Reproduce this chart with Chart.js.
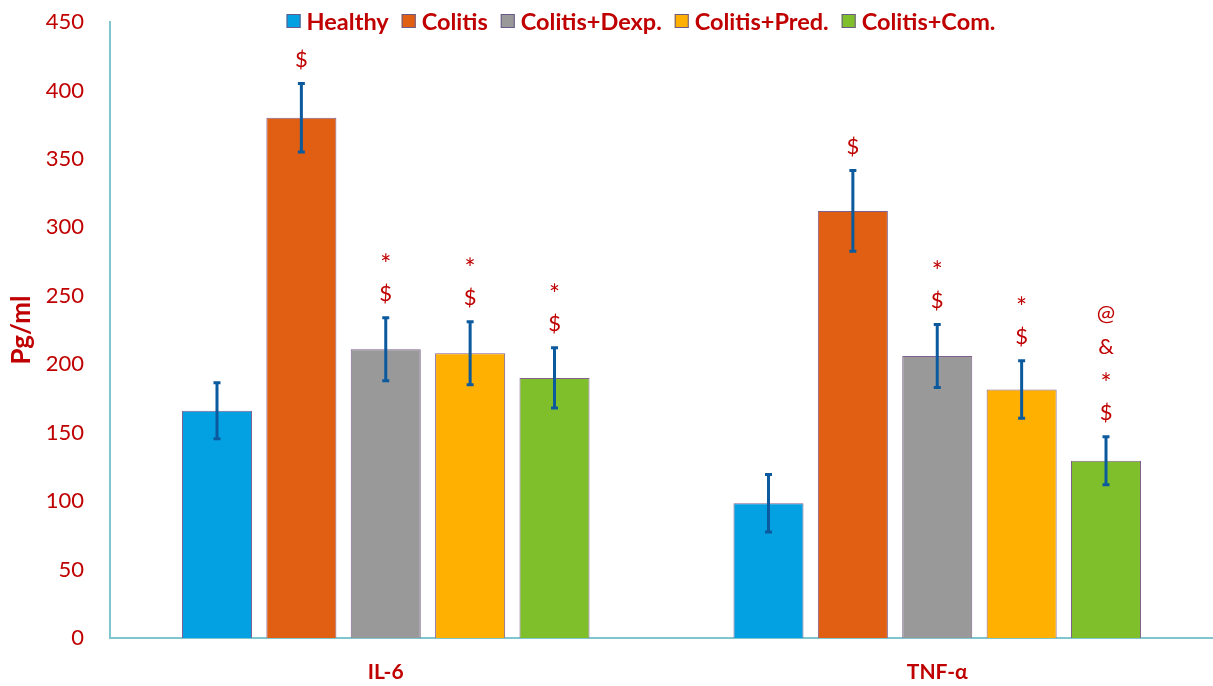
<!DOCTYPE html>
<html>
<head>
<meta charset="utf-8">
<script src="https://cdn.jsdelivr.net/npm/chart.js@4/dist/chart.umd.min.js"></script>
<style>
  html, body { margin: 0; padding: 0; background: #fff; }
  #wrap { width: 1213px; height: 686px; position: relative; }
</style>
</head>
<body>
<div id="wrap"><canvas id="c"></canvas></div>
<script>
// Cytokine levels (pg/ml) per treatment group
const categories = ['IL-6', 'TNF-α'];
const groupNames = ['Healthy', 'Colitis', 'Colitis+Dexp.', 'Colitis+Pred.', 'Colitis+Com.'];

const healthy = [166, 98.5];
const colitis = [380, 312];
const dexp    = [211, 206];
const pred    = [208, 181.5];
const com     = [190, 129.5];

// Standard deviations (error bars)
const healthyErr = [20.5, 21];
const colitisErr = [25, 29.5];
const dexpErr    = [23, 23];
const predErr    = [23, 21];
const comErr     = [22, 17.5];

// Significance marks, listed bottom to top
const healthyMarks = [[], []];
const colitisMarks = [['$'], ['$']];
const dexpMarks    = [['$', '*'], ['$', '*']];
const predMarks    = [['$', '*'], ['$', '*']];
const comMarks     = [['$', '*'], ['$', '*', '&', '@']];

const yTicks = [0, 50, 100, 150, 200, 250, 300, 350, 400, 450];

const colors = ['#03a0e2', '#e05f12', '#999999', '#ffb001', '#80bf2c'];
const RED = '#c00000';
const AXIS = '#7fc6cf';
const FONT = 'Lato, "Open Sans", sans-serif';

const seriesValues = [healthy, colitis, dexp, pred, com];
const seriesErrors = [healthyErr, colitisErr, dexpErr, predErr, comErr];
const seriesMarks  = [healthyMarks, colitisMarks, dexpMarks, predMarks, comMarks];

const datasets = groupNames.map((name, i) => ({
  label: name,
  data: seriesValues[i],
  errors: seriesErrors[i],
  marks: seriesMarks[i],
  backgroundColor: colors[i],
  borderColor: '#80608f',
  borderWidth: 1,
  categoryPercentage: 0.765,
  barPercentage: 0.83
}));

// Error bars with small caps
const errorBarPlugin = {
  id: 'errorBars',
  afterDatasetsDraw(chart) {
    const ctx = chart.ctx;
    const y = chart.scales.y;
    ctx.save();
    ctx.strokeStyle = '#0c5a9e';
    ctx.lineWidth = 3;
    chart.data.datasets.forEach((ds, di) => {
      const meta = chart.getDatasetMeta(di);
      meta.data.forEach((bar, i) => {
        const v = ds.data[i], e = ds.errors[i];
        const yTop = y.getPixelForValue(v + e);
        const yBot = y.getPixelForValue(v - e);
        const x = bar.x;
        ctx.beginPath();
        ctx.moveTo(x, yTop); ctx.lineTo(x, yBot);
        ctx.moveTo(x - 3.5, yTop); ctx.lineTo(x + 3.5, yTop);
        ctx.moveTo(x - 3.5, yBot); ctx.lineTo(x + 3.5, yBot);
        ctx.stroke();
      });
    });
    ctx.restore();
  }
};

// Significance symbols stacked above each error bar
const marksPlugin = {
  id: 'sigMarks',
  afterDatasetsDraw(chart) {
    const ctx = chart.ctx;
    const y = chart.scales.y;
    ctx.save();
    ctx.fillStyle = RED;
    ctx.textAlign = 'center';
    ctx.textBaseline = 'middle';
    chart.data.datasets.forEach((ds, di) => {
      const meta = chart.getDatasetMeta(di);
      meta.data.forEach((bar, i) => {
        const list = ds.marks[i];
        const top = y.getPixelForValue(ds.data[i] + ds.errors[i]);
        list.forEach((m, k) => {
          ctx.font = (m === '*' ? '26px ' : '22px ') + FONT;
          const yy = top - 24 - k * 33 + (m === '*' ? 5 : 0);
          ctx.fillText(m, bar.x, yy);
        });
      });
    });
    ctx.restore();
  }
};

// Legend row across the top
const topLegendPlugin = {
  id: 'topLegend',
  afterDraw(chart) {
    const ctx = chart.ctx;
    ctx.save();
    ctx.font = 'bold 23.5px ' + FONT;
    const box = 14, gapText = 6, gapItem = 13;
    const items = chart.data.datasets.map(ds => ({
      text: ds.label, color: ds.backgroundColor,
      w: box + gapText + ctx.measureText(ds.label).width
    }));
    const total = items.reduce((s, it) => s + it.w, 0) + gapItem * (items.length - 1);
    let x = 641 - total / 2;
    const cy = 21;
    items.forEach(it => {
      ctx.fillStyle = it.color;
      ctx.fillRect(x, cy - box / 2, box, box);
      ctx.strokeStyle = '#6a5a8a';
      ctx.lineWidth = 1;
      ctx.strokeRect(x + 0.5, cy - box / 2 + 0.5, box - 1, box - 1);
      ctx.fillStyle = RED;
      ctx.textBaseline = 'middle';
      ctx.textAlign = 'left';
      ctx.fillText(it.text, x + box + gapText, cy + 1);
      x += it.w + gapItem;
    });
    ctx.restore();
  }
};

new Chart(document.getElementById('c'), {
  type: 'bar',
  data: { labels: categories, datasets },
  options: {
    responsive: true,
    maintainAspectRatio: false,
    animation: false,
    layout: { padding: { top: 22, right: 0, bottom: 0, left: 0 } },
    plugins: {
      legend: { display: false },
      tooltip: { enabled: false }
    },
    scales: {
      x: {
        grid: { display: false, drawTicks: false },
        border: { display: true, color: AXIS, width: 2 },
        ticks: { color: RED, font: { family: FONT, size: 21, weight: 'bold' }, padding: 22 },
        afterFit(s) { s.height = 48; s.paddingLeft = 0; s.paddingRight = 0; }
      },
      y: {
        min: 0, max: 450,
        afterBuildTicks(s) { s.ticks = yTicks.map(v => ({ value: v })); },
        grid: { display: false, drawTicks: false },
        border: { display: true, color: AXIS, width: 2 },
        ticks: { color: RED, font: { family: FONT, size: 22 }, padding: 26 },
        title: {
          display: true, text: 'Pg/ml', color: RED,
          font: { family: FONT, size: 26, weight: 'bold' },
          padding: { top: 6, bottom: 0 }
        },
        afterFit(s) { s.width = 110; s.paddingTop = 0; s.paddingBottom = 0; }
      }
    }
  },
  plugins: [errorBarPlugin, marksPlugin, topLegendPlugin]
});
</script>
</body>
</html>
